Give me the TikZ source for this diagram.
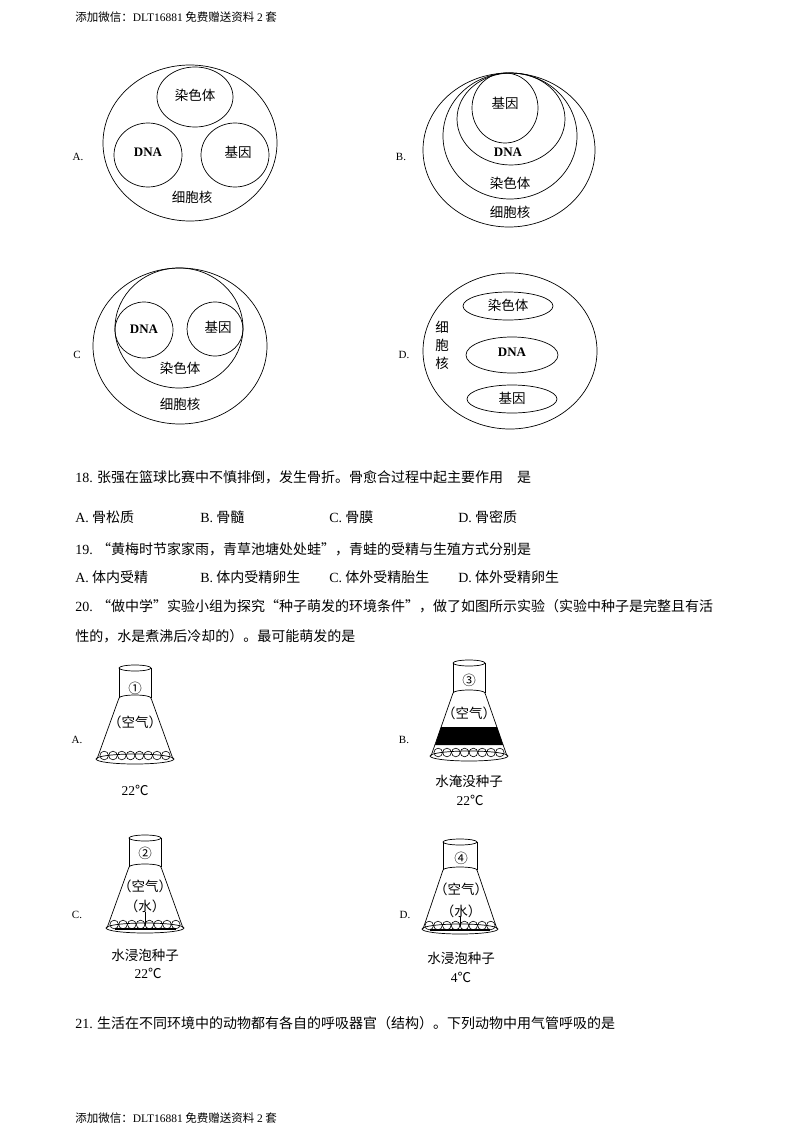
\documentclass[tikz,border=0pt]{standalone}
\usepackage{fontspec}
\setmainfont{Noto Sans CJK SC}
\newfontfamily\lat{Liberation Serif}
\begin{document}
\begin{tikzpicture}[x=1pt,y=-1pt,
  line width=0.7pt,
  t/.style={inner sep=0pt,font=\fontsize{13.5}{13.5}\selectfont},
  q/.style={inner sep=0pt,anchor=west,font=\fontsize{14}{14}\selectfont},
  h/.style={inner sep=0pt,anchor=west,font=\fontsize{11.5}{11.5}\selectfont},
  lb/.style={inner sep=0pt,font=\lat\fontsize{11}{11}\selectfont},
  dn/.style={inner sep=0pt,font=\lat\bfseries\fontsize{13}{13}\selectfont}]
\useasboundingbox (0,0) rectangle (800,1132);
\node[h] (hd) at (75,17) {添加微信：{\lat DLT16881} 免费赠送资料 {\lat 2} 套};
\node[h] (ft) at (75,1118) {添加微信：{\lat DLT16881} 免费赠送资料 {\lat 2} 套};
% A
\draw (190,143) ellipse [x radius=87,y radius=78];
\draw (195,97) ellipse [x radius=38,y radius=30];
\draw (148,155) ellipse [x radius=34,y radius=32];
\draw (235,155) ellipse [x radius=34,y radius=32];
\node[t] (a1) at (195,95) {染色体};
\node[dn] (a2) at (148,152) {DNA};
\node[t] (a3) at (238,152) {基因};
\node[t] (a4) at (192,197) {细胞核};
\node[lb] (la) at (78,157) {A.};
% B
\draw (509,150) ellipse [x radius=86,y radius=77];
\draw (510,136) ellipse [x radius=67,y radius=63];
\draw (511,119) ellipse [x radius=54,y radius=46];
\draw (505,108) ellipse [x radius=33,y radius=35];
\node[t] (b1) at (505,103) {基因};
\node[dn] (b2) at (508,152) {DNA};
\node[t] (b3) at (510,183) {染色体};
\node[t] (b4) at (510,212) {细胞核};
\node[lb] (lbb) at (401,157) {B.};
% C
\draw (180,346) ellipse [x radius=87,y radius=78];
\draw (179,328) ellipse [x radius=64,y radius=60];
\draw (144,330) ellipse [x radius=29,y radius=28];
\draw (215,329) ellipse [x radius=28,y radius=27];
\node[dn] (c1) at (144,329) {DNA};
\node[t] (c2) at (218,327) {基因};
\node[t] (c3) at (180,368) {染色体};
\node[t] (c4) at (180,404) {细胞核};
\node[lb] (lc) at (77,355) {C};
% D
\draw (510,351) ellipse [x radius=87,y radius=78];
\draw (508,306) ellipse [x radius=45,y radius=14];
\draw (512,355) ellipse [x radius=46,y radius=18];
\draw (512,399) ellipse [x radius=45,y radius=14];
\node[t] (d1) at (508,305) {染色体};
\node[dn] (d2) at (512,352) {DNA};
\node[t] (d3) at (512,398) {基因};
\node[t] (d4) at (442,327) {细};
\node[t] (d5) at (442,345) {胞};
\node[t] (d6) at (442,363) {核};
\node[lb] (ld) at (404,355) {D.};
% questions
\node[q] (q18) at (75,477) {{\lat 18.} 张强在篮球比赛中不慎排倒，发生骨折。骨愈合过程中起主要作用\quad 是};
\node[q] (o18a) at (75,517) {{\lat A.} 骨松质};
\node[q] (o18b) at (200,517) {{\lat B.} 骨髓};
\node[q] (o18c) at (329,517) {{\lat C.} 骨膜};
\node[q] (o18d) at (458,517) {{\lat D.} 骨密质};
\node[q] (q19) at (75,549) {{\lat 19.} “黄梅时节家家雨，青草池塘处处蛙”，青蛙的受精与生殖方式分别是};
\node[q] (o19a) at (75,577) {{\lat A.} 体内受精};
\node[q] (o19b) at (200,577) {{\lat B.} 体内受精卵生};
\node[q] (o19c) at (329,577) {{\lat C.} 体外受精胎生};
\node[q] (o19d) at (458,577) {{\lat D.} 体外受精卵生};
\node[q] (q20) at (75,606) {{\lat 20.} “做中学”实验小组为探究“种子萌发的环境条件”，做了如图所示实验（实验中种子是完整且有活};
\node[q] (q20b) at (75,636) {性的，水是煮沸后冷却的）。最可能萌发的是};
\node[q] (q21) at (75,1023) {{\lat 21.} 生活在不同环境中的动物都有各自的呼吸器官（结构）。下列动物中用气管呼吸的是};
% flasks: cx, top, neckbottom, bottom, neck hw, bottom hw
\newcommand\myflask[6]{%
  \draw (#1,#2) ellipse [x radius=#5,y radius=3];
  \draw (#1-#5,#2) -- (#1-#5,#3) (#1+#5,#2) -- (#1+#5,#3);
  \draw (#1-#5,#3) arc[start angle=180,end angle=360,x radius=#5,y radius=3];
  \draw (#1-#5,#3) -- (#1-#6,#4) (#1+#5,#3) -- (#1+#6,#4);
  \draw (#1,#4) ellipse [x radius=#6+1,y radius=5];
  \foreach \i in {-3.5,-2.5,...,3.5} \draw[line width=0.6pt] (#1+\i*8.8,#4-3.5) circle (4.3);
}
\myflask{135}{668}{698}{759}{16}{38}
\myflask{469}{663}{693}{756}{16}{38}
\myflask{145}{838}{867}{928}{16}{38}
\myflask{460}{842}{870}{929}{17}{37}
\fill (441,727) -- (497,727) -- (503,745) -- (435,745) -- cycle;
\draw[line width=1.5pt] (115,929) -- (176,929);
\draw[line width=1.5pt] (430,930) -- (490,930);
\draw (145,912) -- (145,925);
\draw (460,917) -- (460,926);
\node[t] (f1) at (135,688) {①};
\node[t] (f2) at (469,680) {③};
\node[t] (f3) at (145,853) {②};
\node[t] (f4) at (461,858) {④};
\node[t] (k1) at (135,722) {（空气）};
\node[t] (k2) at (469,713) {（空气）};
\node[t] (k3) at (145,886) {（空气）};
\node[t] (k4) at (461,889) {（空气）};
\node[t] (w3) at (145,906) {（水）};
\node[t] (w4) at (461,911) {（水）};
\node[t] (s2) at (469,781) {水淹没种子};
\node[t] (s3) at (145,955) {水浸泡种子};
\node[t] (s4) at (461,958) {水浸泡种子};
\node[t] (tc1) at (135,790) {{\lat 22}℃};
\node[t] (tc2) at (470,800) {{\lat 22}℃};
\node[t] (tc3) at (148,973) {{\lat 22}℃};
\node[t] (tc4) at (461,977) {{\lat 4}℃};
\node[lb] (fa) at (77,740) {A.};
\node[lb] (fb) at (404,740) {B.};
\node[lb] (fc) at (77,915) {C.};
\node[lb] (fd) at (405,915) {D.};
\end{tikzpicture}
\end{document}
